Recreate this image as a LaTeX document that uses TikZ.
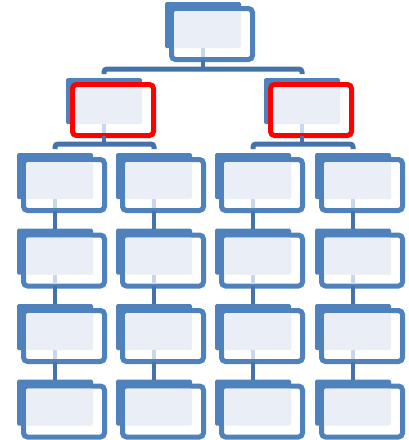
\documentclass[tikz,border=0pt]{standalone}
\usetikzlibrary{calc}
\definecolor{boxblue}{HTML}{4F81BD}
\definecolor{connblue}{HTML}{4472AA}
\definecolor{lightfill}{HTML}{E9EEF7}
\definecolor{palestub}{HTML}{CAD6EA}
\definecolor{hired}{HTML}{FF0000}
\tikzset{
  frontbox/.style={rectangle, rounded corners=4pt, line width=5pt, fill=white,
    minimum width=81pt, minimum height=51pt, inner sep=0pt, outer sep=0pt},
  backfill/.style={fill=boxblue, rounded corners=1.5pt},
  litefill/.style={fill=lightfill, rounded corners=1.5pt},
  vconn/.style={draw=connblue, line width=4pt},
  barconn/.style={draw=connblue, line width=5pt, rounded corners=3pt},
}
% #1 name, #2 x, #3 y, #4 border colour, #5 stub (1 = pale stub below)
\newcommand{\orgbox}[5]{%
  \begin{scope}[shift={(#2,#3)}]
    \fill[backfill] (-4,-4) rectangle (72,42);
    \node[frontbox, draw=#4] (#1) at (43,28) {};
    \fill[litefill] (5,5) rectangle (72,42);
    \ifnum#5=1 \fill[palestub] (32,42) rectangle (36,51);\fi
  \end{scope}}
\begin{document}
\begin{tikzpicture}[x=1pt,y=-1pt]
\useasboundingbox (0,0) rectangle (408,440);
% top
\orgbox{top}{169}{6}{boxblue}{1}
% level 2
\orgbox{L}{70}{82}{hired}{1}
\orgbox{R}{268}{82}{hired}{1}
% grid
\foreach \c/\x in {1/21,2/120,3/219,4/319}{
  \foreach \r/\y/\s in {1/157/1,2/232.5/1,3/308/1,4/383.5/0}{
    \orgbox{b\c\r}{\x}{\y}{boxblue}{\s}
  }
}
% connectors top -> level 2
\coordinate (bar1) at (203,69);
\draw[vconn] ([xshift=-9pt]top.south) -- (bar1);
\draw[barconn] ([xshift=-9pt,yshift=10.5pt]L.north) |- (bar1) -| ([xshift=-9pt,yshift=10.5pt]R.north);
% level 2 -> level 3
\coordinate (bar2) at (104,144);
\coordinate (bar3) at (302,144);
\draw[vconn] ([xshift=-9pt]L.south) -- (bar2);
\draw[vconn] ([xshift=-9pt]R.south) -- (bar3);
\draw[barconn] ([xshift=-9pt,yshift=10.5pt]b11.north) |- (bar2) -| ([xshift=-9pt,yshift=10.5pt]b21.north);
\draw[barconn] ([xshift=-9pt,yshift=10.5pt]b31.north) |- (bar3) -| ([xshift=-9pt,yshift=10.5pt]b41.north);
% vertical stacks
\foreach \c in {1,2,3,4}{
  \draw[vconn] ([xshift=-9pt]b\c1.south) -- ([xshift=-9pt,yshift=6.5pt]b\c2.north);
  \draw[vconn] ([xshift=-9pt]b\c2.south) -- ([xshift=-9pt,yshift=6.5pt]b\c3.north);
  \draw[vconn] ([xshift=-9pt]b\c3.south) -- ([xshift=-9pt,yshift=6.5pt]b\c4.north);
}
\end{tikzpicture}
\end{document}
